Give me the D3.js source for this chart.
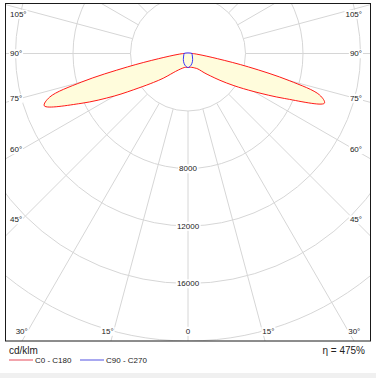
<!DOCTYPE html>
<html><head><meta charset="utf-8">
<script src="https://cdn.jsdelivr.net/npm/d3@7"></script>
<style>html,body{margin:0;padding:0;background:#fff;}svg{display:block;}</style>
</head><body>
<script>
// ---- data ----
const angles = [0,5,10,15,20,25,30,35,40,45,50,55,60,65,70,72.5,75,77.5,80,85,90];
const c180 = [970,970,975,1010,1080,1180,1320,1530,1880,2430,3130,4170,5910,8210,10640,10090,7650,4310,2090,700,280];
const c0   = [970,970,970,1000,1040,1110,1200,1380,1740,2200,2900,3900,5300,7400,10100,9600,7300,4310,2090,700,280];
const anglesB = [0,15,30,45,60,75,90];
const c90  = [975,835,625,450,350,300,280];
const c270 = [975,835,625,450,350,300,280];
const ringValues = [4000,8000,12000,16000,20000];
const ringLabels = [8000,12000,16000];
const gridAngles = d3.range(0,360,15);
const angleLabels = [0,15,30,45,60,75,90,105];
const unitLabel = "cd/klm";
const legendNames = ["C0 - C180","C90 - C270"];
const etaText = "η = 475%";

// ---- layout ----
const W=376,H=378, cx=188, cy=53.5;
const frame={x:5.5,y:3.5,w:365,h:337.5};
const r = d3.scaleLinear().domain([0,20000]).range([0,287.5]);
const FONT='"Liberation Sans", Arial, sans-serif';

const svg=d3.select("body").append("svg").attr("width",W).attr("height",H);
svg.append("rect").attr("x",0).attr("y",373).attr("width",W).attr("height",5).attr("fill","#f0f0f0");
svg.append("clipPath").attr("id","fc").append("rect")
  .attr("x",frame.x).attr("y",frame.y).attr("width",frame.w).attr("height",frame.h);

const g=svg.append("g").attr("clip-path","url(#fc)");
const grid=g.append("g").attr("transform",`translate(${cx},${cy})`);
const gridCol="#d6d6d6";
grid.selectAll("circle").data(ringValues).join("circle")
  .attr("r",d=>r(d)).attr("fill","none").attr("stroke",gridCol).attr("stroke-width",1);
// radial lines from the inner ring outward; angle measured from nadir
grid.selectAll("line").data(gridAngles).join("line")
  .attr("x1",d=>r(4000)*Math.sin(d*Math.PI/180)).attr("y1",d=>r(4000)*Math.cos(d*Math.PI/180))
  .attr("x2",d=>r(30000)*Math.sin(d*Math.PI/180)).attr("y2",d=>r(30000)*Math.cos(d*Math.PI/180))
  .attr("stroke",gridCol).attr("stroke-width",1);

// curves
function loop(left,right,angs){
  const pts=[];
  for(let i=angs.length-1;i>=0;i--) pts.push({a:Math.PI+angs[i]*Math.PI/180, v:left[i]});
  for(let i=1;i<angs.length;i++) pts.push({a:Math.PI-angs[i]*Math.PI/180, v:right[i]});
  return pts;
}
const radial=d3.lineRadial().angle(d=>d.a).radius(d=>r(d.v)).curve(d3.curveCatmullRomClosed.alpha(0.5));
const curves=g.append("g").attr("transform",`translate(${cx},${cy})`);
curves.append("path").attr("d",radial(loop(c180,c0,angles)))
  .attr("fill","#fffcdc").attr("stroke","#ff0000").attr("stroke-width",0.9);
curves.append("path").attr("d",radial(loop(c270,c90,anglesB)))
  .attr("fill","#fffcdc").attr("stroke","#2020ff").attr("stroke-width",0.9);

// labels with white backgrounds
const labels=svg.append("g").attr("font-family",FONT).attr("font-size",8).attr("fill","#222");
function addLabel(x,y,txt,anchor){
  const t=labels.append("text").attr("x",x).attr("y",y).attr("dy","0.35em").attr("text-anchor",anchor).text(txt);
  const b=t.node().getBBox();
  labels.insert("rect","text").attr("x",b.x-1).attr("y",b.y).attr("width",b.width+2).attr("height",b.height).attr("fill","#fff");
}
ringLabels.forEach(v=>addLabel(cx,cy+r(v),String(v),"middle"));
angleLabels.forEach(a=>{
  const rad=a*Math.PI/180;
  if(a===0){ addLabel(cx,331,"0","middle"); return; }
  if(a>=45){
    const y=Math.max(14, cy+166*Math.cos(rad)/Math.sin(rad));
    addLabel(10,y,a+"°","start");
    addLabel(362,y,a+"°","end");
  } else {
    const dx=(331-cy)*Math.tan(rad);
    addLabel(cx-dx,331,a+"°","end");
    addLabel(cx+dx,331,a+"°","start");
  }
});

svg.append("rect").attr("x",frame.x).attr("y",frame.y).attr("width",frame.w).attr("height",frame.h)
  .attr("fill","none").attr("stroke","#1a1a1a").attr("stroke-width",1);

// legend
const lg=svg.append("g").attr("font-family",FONT).attr("fill","#222");
lg.append("text").attr("x",9).attr("y",350).attr("dy","0.35em").attr("font-size",10).text(unitLabel);
lg.append("text").attr("x",365).attr("y",350).attr("dy","0.35em").attr("font-size",10).attr("text-anchor","end").text(etaText);
const legX=[9,80], legCol=["#f2a4ac","#a8a8f0"];
legendNames.forEach((n,i)=>{
  lg.append("line").attr("x1",legX[i]).attr("x2",legX[i]+24).attr("y1",360).attr("y2",360)
    .attr("stroke",legCol[i]).attr("stroke-width",2);
  lg.append("text").attr("x",legX[i]+26).attr("y",360).attr("dy","0.35em").attr("font-size",8).text(n);
});
</script>
</body></html>
